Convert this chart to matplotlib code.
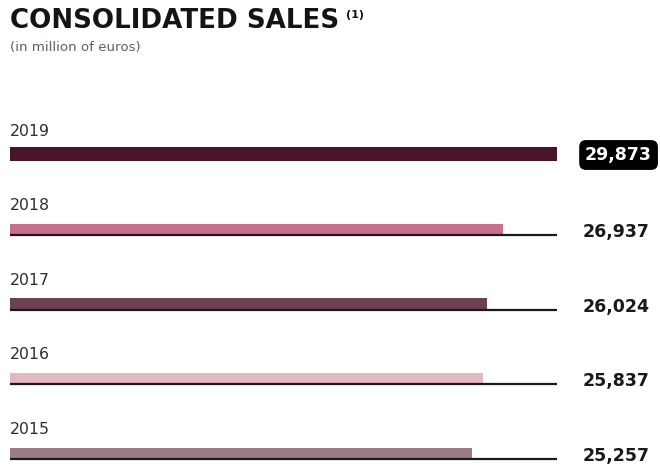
import matplotlib
matplotlib.use("Agg")
import matplotlib.pyplot as plt

years = ["2019", "2018", "2017", "2016", "2015"]
sales = [29873, 26937, 26024, 25837, 25257]
value_labels = ["29,873", "26,937", "26,024", "25,837", "25,257"]
bar_colors = ["#47142a", "#c8708a", "#6c4152", "#e3b8c3", "#9c7c86"]

W, H = 660, 465
fig = plt.figure(figsize=(W / 100, H / 100), dpi=100)
ax = fig.add_axes([0, 0, 1, 1])

# pixel-aligned scale: value 0 at x=10 px, max value at x=557 px
vmax = max(sales)
k = vmax / 547.0
ax.set_xlim(-10 * k, 650 * k)
step = 74.6
top = 154.5
ax.set_ylim((H - top) / step, -top / step)
ax.axis("off")

label_x = 640 * k  # right edge of value labels (x = 650 px)
for i, (yr, v, lab, c) in enumerate(zip(years, sales, value_labels, bar_colors)):
    h = (14 if i == 0 else 10.5) / step
    ax.barh(i, v, height=h, color=c, edgecolor="none", zorder=2)
    if i > 0:
        ax.plot([0, vmax], [i + h / 2 + 0.8 / step] * 2, color="#1a1a1a", lw=1.6,
                solid_capstyle="butt", zorder=3)
    ax.text(0, i - 23.5 / step, yr, fontsize=11.3, color="#2e2e2e",
            family="DejaVu Sans", va="center", ha="left")
    if i == 0:
        ax.text(label_x + 2 * k, i + 0.5 / step, lab, fontsize=12.5, fontweight="bold",
                color="white", family="DejaVu Sans", va="center", ha="right",
                bbox=dict(boxstyle="round,pad=0.3,rounding_size=0.35",
                          fc="black", ec="black"))
    else:
        ax.text(label_x, i + 3 / step, lab, fontsize=12.5, fontweight="bold",
                color="#1a1a1a", family="DejaVu Sans", va="center", ha="right")

fig.text(10 / W, 1 - 21 / H, "CONSOLIDATED SALES", fontsize=18.8,
         fontweight="heavy", family="DejaVu Sans", color="#141414",
         va="center", ha="left")
fig.text(346 / W, 1 - 15 / H, "(1)", fontsize=8, fontweight="bold",
         family="DejaVu Sans", color="#141414", va="center", ha="left")
fig.text(10 / W, 1 - 48 / H, "(in million of euros)", fontsize=9.6,
         family="DejaVu Sans", color="#6b5a5e", va="center", ha="left")

fig.savefig("out.png", dpi=100, facecolor="white")
